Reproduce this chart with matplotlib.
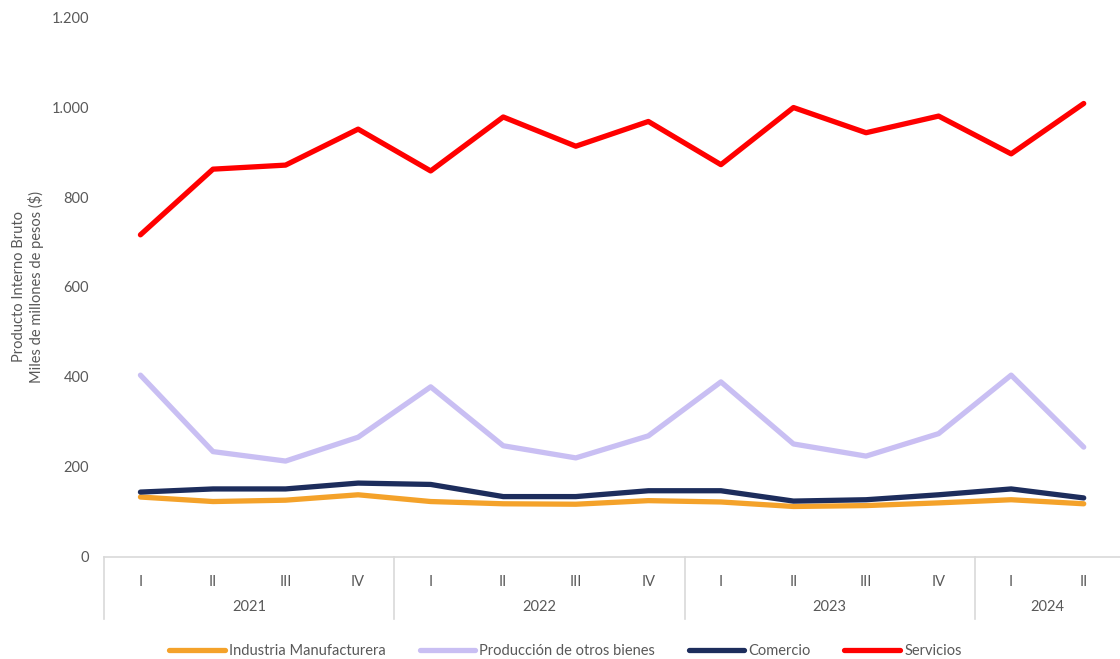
import matplotlib.pyplot as plt
from matplotlib.ticker import FuncFormatter
from matplotlib.transforms import blended_transform_factory

plt.rcParams['font.family'] = ['Lato', 'DejaVu Sans']

quarters = ['I', 'II', 'III', 'IV', 'I', 'II', 'III', 'IV',
            'I', 'II', 'III', 'IV', 'I', 'II']
years = ['2021', '2022', '2023', '2024']
year_counts = [4, 4, 4, 2]

industria = [133, 123, 126, 138, 123, 118, 117, 125, 122, 112, 114, 120, 127, 118]
otros_bienes = [404, 234, 213, 266, 378, 247, 220, 269, 389, 251, 224, 274, 404, 244]
comercio = [144, 151, 151, 164, 161, 134, 134, 147, 147, 124, 127, 138, 151, 131]
servicios = [716, 862, 871, 951, 858, 978, 913, 968, 872, 999, 943, 980, 896, 1008]

grey = '#595959'
fs = 10.5

fig = plt.figure(figsize=(11.2, 6.59), dpi=100)
ax = fig.add_axes([0.093, 0.155, 0.907, 0.819])

x = range(len(quarters))
lw = 3.8
ax.plot(x, industria, color='#F4A22A', lw=lw, solid_capstyle='round', label='Industria Manufacturera')
ax.plot(x, otros_bienes, color='#C9BFF3', lw=lw, solid_capstyle='round', label='Producción de otros bienes')
ax.plot(x, comercio, color='#1D2D5C', lw=lw, solid_capstyle='round', label='Comercio')
ax.plot(x, servicios, color='#FF0000', lw=lw, solid_capstyle='round', label='Servicios')

ax.set_xlim(-0.5, len(quarters) - 0.5)
ax.set_ylim(0, 1200)
ax.set_yticks(range(0, 1201, 200))
ax.yaxis.set_major_formatter(FuncFormatter(lambda v, p: f'{int(v):,}'.replace(',', '.')))

for s in ['top', 'right', 'left']:
    ax.spines[s].set_visible(False)
ax.spines['bottom'].set_color('#d9d9d9')
ax.spines['bottom'].set_linewidth(1.2)

ax.set_xticks(list(x))
ax.set_xticklabels(quarters)
ax.tick_params(axis='x', length=0, pad=13, labelsize=fs, labelcolor=grey)
ax.tick_params(axis='y', length=0, pad=11, labelsize=fs, labelcolor=grey)

ax.set_ylabel('Producto Interno Bruto\nMiles de millones de pesos ($)', color=grey, fontsize=fs,
              labelpad=5, linespacing=1.15)

# multi-level category axis
trans = blended_transform_factory(ax.transData, ax.transAxes)
start = -0.5
for yr, n in zip(years, year_counts):
    ax.plot([start, start], [0, -0.115], transform=trans, color='#d9d9d9', lw=1.2, clip_on=False)
    ax.text(start + n / 2, -0.093, yr, transform=trans, ha='center', va='center',
            color=grey, fontsize=fs)
    start += n

fig.legend(loc='lower center', bbox_to_anchor=(0.505, -0.018), ncol=4, frameon=False,
           fontsize=fs, handlelength=3.8, handletextpad=0.3, columnspacing=2.3,
           labelcolor=grey)

fig.savefig('out.png', dpi=100)
